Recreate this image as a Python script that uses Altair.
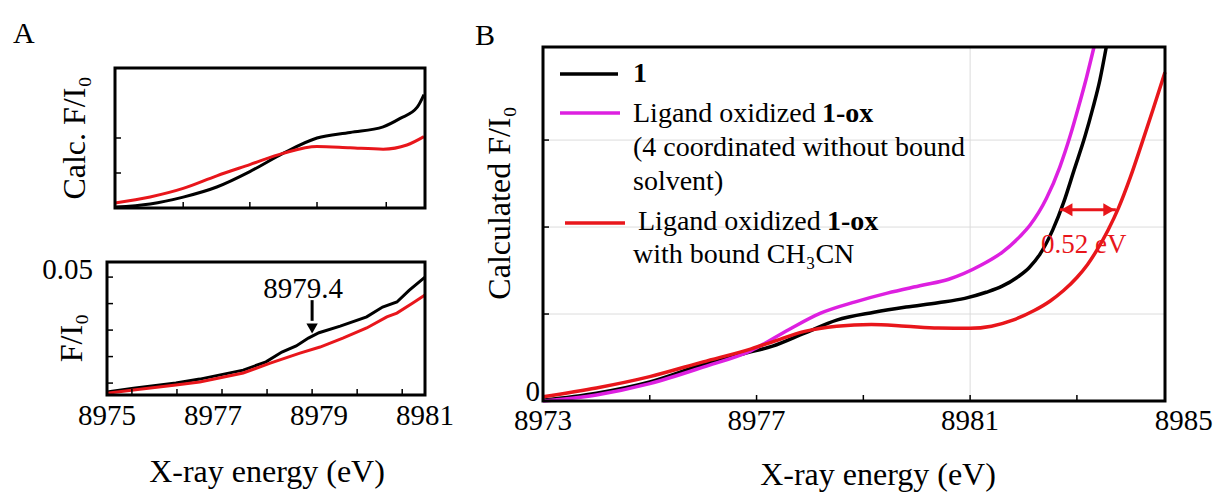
import altair as alt
import pandas as pd

FONT = "Liberation Serif"
BLACK = "#000000"
RED = "#e8161b"
MAGENTA = "#dd20e0"
GRID = "#dcdcdc"

# ---------------- Panel A, top: calculated spectra ----------------
a_top_e_black = [8975.0, 8975.68, 8976.32, 8976.97, 8977.61, 8978.25, 8978.91, 8979.55, 8980.19, 8980.52, 8980.85, 8980.98]
a_top_v_black = [0.007, 0.029, 0.078, 0.15, 0.26, 0.39, 0.50, 0.54, 0.58, 0.64, 0.72, 0.81]
a_top_e_red = [8975.0, 8975.68, 8976.32, 8976.97, 8977.61, 8978.25, 8978.91, 8979.55, 8980.19, 8980.65, 8980.98]
a_top_v_red = [0.036, 0.079, 0.14, 0.23, 0.31, 0.39, 0.44, 0.43, 0.42, 0.45, 0.51]
a_top_xticks = [8976.32, 8977.61, 8978.91, 8980.25]
a_top_yticks = [0.25, 0.5]
a_top_domain_x = [8975, 8981]
a_top_domain_y = [0, 1]

# ---------------- Panel A, bottom: experimental spectra ----------------
a_bot_e_black = [8975.0, 8975.5, 8976.3, 8976.75, 8977.57, 8978.0, 8978.3, 8978.57, 8978.8, 8979.0,
                 8979.4, 8979.9, 8980.2, 8980.47, 8980.7, 8981.0]
a_bot_v_black = [0.0066, 0.0081, 0.010, 0.0115, 0.0149, 0.018, 0.0217, 0.024, 0.027, 0.029,
                 0.0315, 0.035, 0.0387, 0.0406, 0.045, 0.050]
a_bot_e_red = [8975.0, 8975.5, 8976.3, 8976.75, 8977.57, 8978.08, 8978.64, 8979.02, 8979.45, 8979.9,
               8980.28, 8980.47, 8980.77, 8981.0]
a_bot_v_red = [0.0062, 0.0074, 0.0093, 0.0104, 0.0138, 0.0175, 0.0213, 0.0236, 0.027, 0.0308,
               0.035, 0.0364, 0.0402, 0.0432]
a_bot_xlabels = [8975, 8977, 8979, 8981]
a_bot_xticks = [8975.47, 8976.32, 8977.17, 8978.02, 8978.87, 8979.72, 8980.57]
a_bot_yticks = [0.01, 0.02, 0.03, 0.04, 0.05]
a_bot_ylabels = [0.05]
a_bot_domain_x = [8975, 8981]
a_bot_domain_y = [0.0055, 0.0557]
a_arrow_e = 8978.87
a_arrow_v = [0.0413, 0.0335]
a_arrowhead_v = 0.0306
a_arrow_label = "8979.4"
a_arrow_label_pos = [8978.70, 0.0422]

# ---------------- Panel B ----------------
b_e_black = [8973.0, 8974.0, 8975.0, 8976.0, 8976.8, 8977.3, 8977.9, 8978.5, 8979.2, 8979.8, 8980.4,
             8980.9, 8981.3, 8981.6, 8981.9, 8982.1, 8982.3, 8982.55, 8982.75, 8982.95, 8983.15,
             8983.3, 8983.43, 8983.55]
b_v_black = [0.01, 0.09, 0.22, 0.42, 0.55, 0.63, 0.78, 0.93, 1.02, 1.08, 1.13,
             1.18, 1.25, 1.32, 1.43, 1.53, 1.68, 1.97, 2.28, 2.66, 3.04,
             3.37, 3.69, 4.07]
b_e_magenta = [8973.0, 8974.0, 8975.0, 8976.0, 8976.9, 8977.6, 8978.2, 8978.85, 8979.45, 8980.1,
               8980.6, 8981.2, 8981.6, 8981.93, 8982.12, 8982.43, 8982.68, 8982.87, 8983.03,
               8983.18, 8983.32]
b_v_magenta = [0.0, 0.07, 0.2, 0.39, 0.58, 0.82, 1.01, 1.14, 1.24, 1.33,
               1.40, 1.56, 1.71, 1.89, 2.02, 2.33, 2.69, 3.04, 3.38,
               3.72, 4.07]
b_e_red = [8973.0, 8974.0, 8975.0, 8976.0, 8976.9, 8977.3, 8977.9, 8978.5, 8979.15, 8979.8, 8980.4,
           8981.0, 8981.4, 8981.8, 8982.2, 8982.5, 8982.75, 8983.0, 8983.2, 8983.38,
           8983.58, 8983.78, 8984.0, 8984.21, 8984.43, 8984.65]
b_v_red = [0.05, 0.15, 0.28, 0.45, 0.60, 0.68, 0.80, 0.86, 0.88, 0.86, 0.84,
           0.835, 0.86, 0.93, 1.04, 1.15, 1.27, 1.42, 1.57, 1.74,
           1.96, 2.22, 2.57, 2.95, 3.36, 3.78]
b_xlabels = [8973, 8977, 8981, 8985]
b_xticks = [8975, 8977, 8979, 8981, 8983]
b_ygrid = [1, 2, 3]
b_xgrid = [8981]
b_ylabels = [0]
b_domain_x = [8973, 8984.65]
b_domain_y = [0, 4.07]
b_shift_e = [8982.68, 8983.73]
b_shift_v = 2.2
b_shift_label = "0.52 eV"
b_shift_label_pos = [8983.13, 1.70]

# ---------------- layout (pixels inside the single view) ----------------
W, H = 1058, 354
AT_X, AT_Y = [8, 318], [161, 21]      # panel A top plot box
AB_X, AB_Y = [0, 318], [348, 215]     # panel A bottom plot box
B_X, B_Y = [436, 1058], [354, 0]      # panel B plot box

ONE = pd.DataFrame({"a": [0]})


def frame(**cols):
    return pd.DataFrame(cols)


def sc(domain, rng):
    return alt.Scale(domain=domain, range=rng, nice=False, zero=False)


xs_at, ys_at = sc(a_top_domain_x, AT_X), sc(a_top_domain_y, AT_Y)
xs_ab, ys_ab = sc(a_bot_domain_x, AB_X), sc(a_bot_domain_y, AB_Y)
xs_b, ys_b = sc(b_domain_x, B_X), sc(b_domain_y, B_Y)


def X(field, s):
    return alt.X(field, type="quantitative", scale=s, axis=None)


def Y(field, s):
    return alt.Y(field, type="quantitative", scale=s, axis=None)


def txt(text, x, y, size=28, weight="normal", color=BLACK, align="left", angle=0):
    return alt.Chart(ONE).mark_text(text=text, font=FONT, fontSize=size, fontWeight=weight,
                                    color=color, align=align, baseline="alphabetic",
                                    angle=angle).encode(x=alt.value(x), y=alt.value(y))


def line(es, vs, xs, ys, color, width, interp):
    return alt.Chart(frame(E=es, v=vs)).mark_line(
        color=color, strokeWidth=width, interpolate=interp).encode(x=X("E", xs), y=Y("v", ys))


def box(dx, dy, xs, ys, width=3):
    return alt.Chart(frame(x1=[dx[0]], x2=[dx[1]], y1=[dy[0]], y2=[dy[1]])).mark_rect(
        filled=False, stroke=BLACK, strokeWidth=width, fillOpacity=0).encode(
        x=X("x1", xs), x2="x2", y=Y("y1", ys), y2="y2")


def xticks(vals, xs, ybottom):
    return alt.Chart(frame(t=vals)).mark_rule(color=BLACK, strokeWidth=1.5).encode(
        x=X("t", xs), y=alt.value(ybottom), y2=alt.value(ybottom - 6))


def yticks(vals, ys, xleft):
    return alt.Chart(frame(t=vals)).mark_rule(color=BLACK, strokeWidth=1.5).encode(
        y=Y("t", ys), x=alt.value(xleft), x2=alt.value(xleft + 6))


layers = []

# ================= Panel A top =================
layers += [
    line(a_top_e_black, a_top_v_black, xs_at, ys_at, BLACK, 3, "monotone"),
    line(a_top_e_red, a_top_v_red, xs_at, ys_at, RED, 3, "monotone"),
    xticks(a_top_xticks, xs_at, AT_Y[0]),
    yticks(a_top_yticks, ys_at, AT_X[0]),
    box(a_top_domain_x, a_top_domain_y, xs_at, ys_at),
    txt("A", -94, -4, size=30),
    txt("Calc. F/I\u2080", -22, 91, size=32, align="center", angle=270),
]

# ================= Panel A bottom =================
layers += [
    line(a_bot_e_black, a_bot_v_black, xs_ab, ys_ab, BLACK, 3, "linear"),
    line(a_bot_e_red, a_bot_v_red, xs_ab, ys_ab, RED, 3, "linear"),
    xticks(a_bot_xticks, xs_ab, AB_Y[0]),
    yticks(a_bot_yticks, ys_ab, AB_X[0]),
    box(a_bot_domain_x, a_bot_domain_y, xs_ab, ys_ab),
    alt.Chart(frame(t=a_bot_xlabels)).mark_text(
        font=FONT, fontSize=29, color=BLACK, align="center", baseline="alphabetic").encode(
        x=X("t", xs_ab), y=alt.value(AB_Y[0] + 30), text=alt.Text("t:Q", format="d")),
    alt.Chart(frame(t=a_bot_ylabels)).mark_text(
        font=FONT, fontSize=29, color=BLACK, align="right", baseline="middle", dy=-7).encode(
        y=Y("t", ys_ab), x=alt.value(AB_X[0] - 14), text=alt.Text("t:Q", format=".2f")),
    txt("F/I\u2080", -25, 291, size=32, align="center", angle=270),
    txt("X-ray energy (eV)", 160, 435, size=32, align="center"),
    alt.Chart(frame(E=[a_arrow_e], v1=[a_arrow_v[0]], v2=[a_arrow_v[1]])).mark_rule(
        color=BLACK, strokeWidth=3).encode(x=X("E", xs_ab), y=Y("v1", ys_ab), y2="v2"),
    alt.Chart(frame(E=[a_arrow_e], v=[a_arrowhead_v])).mark_point(
        shape="triangle-down", filled=True, size=130, color=BLACK, opacity=1).encode(
        x=X("E", xs_ab), y=Y("v", ys_ab)),
    alt.Chart(frame(E=[a_arrow_label_pos[0]], v=[a_arrow_label_pos[1]], t=[a_arrow_label])).mark_text(
        font=FONT, fontSize=29, color=BLACK, align="center", baseline="alphabetic").encode(
        x=X("E", xs_ab), y=Y("v", ys_ab), text="t:N"),
]

# ================= Panel B =================
layers += [
    alt.Chart(frame(t=b_ygrid)).mark_rule(color=GRID, strokeWidth=1).encode(
        y=Y("t", ys_b), x=alt.value(B_X[0]), x2=alt.value(B_X[1])),
    alt.Chart(frame(t=b_xgrid)).mark_rule(color=GRID, strokeWidth=1).encode(
        x=X("t", xs_b), y=alt.value(B_Y[1]), y2=alt.value(B_Y[0])),
    line(b_e_black, b_v_black, xs_b, ys_b, BLACK, 3.5, "monotone"),
    line(b_e_magenta, b_v_magenta, xs_b, ys_b, MAGENTA, 3.5, "monotone"),
    line(b_e_red, b_v_red, xs_b, ys_b, RED, 3.5, "monotone"),
    xticks(b_xticks, xs_b, B_Y[0]),
    yticks(b_ygrid, ys_b, B_X[0]),
    box(b_domain_x, b_domain_y, xs_b, ys_b),
    alt.Chart(frame(t=b_xlabels)).mark_text(
        font=FONT, fontSize=29, color=BLACK, align="center", baseline="alphabetic").encode(
        x=X("t", xs_b), y=alt.value(B_Y[0] + 29), text=alt.Text("t:Q", format="d")),
    alt.Chart(frame(t=b_ylabels)).mark_text(
        font=FONT, fontSize=29, color=BLACK, align="right", baseline="alphabetic").encode(
        y=Y("t", ys_b), x=alt.value(B_X[0] - 3), text=alt.Text("t:Q", format="d")),
    txt("Calculated F/I\u2080", 403, 156, size=32, align="center", angle=270),
    txt("X-ray energy (eV)", 771, 438, size=32, align="center"),
    txt("B", 368, -2, size=30),
    alt.Chart(frame(E1=[b_shift_e[0]], E2=[b_shift_e[1]], v=[b_shift_v])).mark_rule(
        color=RED, strokeWidth=3).encode(x=X("E1", xs_b), x2="E2", y=Y("v", ys_b)),
    alt.Chart(frame(E=[b_shift_e[0] + 0.13], v=[b_shift_v])).mark_point(
        shape="triangle-left", filled=True, size=170, color=RED, opacity=1).encode(
        x=X("E", xs_b), y=Y("v", ys_b)),
    alt.Chart(frame(E=[b_shift_e[1] - 0.13], v=[b_shift_v])).mark_point(
        shape="triangle-right", filled=True, size=170, color=RED, opacity=1).encode(
        x=X("E", xs_b), y=Y("v", ys_b)),
    alt.Chart(frame(E=[b_shift_label_pos[0]], v=[b_shift_label_pos[1]], t=[b_shift_label])).mark_text(
        font=FONT, fontSize=27, color=RED, align="center", baseline="alphabetic").encode(
        x=X("E", xs_b), y=Y("v", ys_b), text="t:N"),
]


def leg_line(color, x1, x2, y):
    return alt.Chart(ONE).mark_rule(color=color, strokeWidth=3.5).encode(
        x=alt.value(x1), x2=alt.value(x2), y=alt.value(y))


L = B_X[0]
layers += [
    leg_line(BLACK, L + 17, L + 75, 27),
    txt("1", L + 90, 35, weight="bold"),
    leg_line(MAGENTA, L + 17, L + 77, 66),
    txt("Ligand oxidized", L + 90, 75),
    txt("1-ox", L + 279, 75, weight="bold"),
    txt("(4 coordinated without bound", L + 90, 109),
    txt("solvent)", L + 90, 143),
    leg_line(RED, L + 22, L + 82, 176),
    txt("Ligand oxidized", L + 95, 183),
    txt("1-ox", L + 284, 183, weight="bold"),
    txt("with bound CH\u2083CN", L + 90, 216),
]

chart = alt.layer(*layers).resolve_scale(x="independent", y="independent").properties(
    width=W, height=H,
    padding={"left": 107, "top": 47, "right": 50, "bottom": 92},
    autosize=alt.AutoSizeParams(type="none"),
    background="white",
).configure_view(strokeOpacity=0)

chart.save("out.html", embed_options={"renderer": "svg", "actions": False})
